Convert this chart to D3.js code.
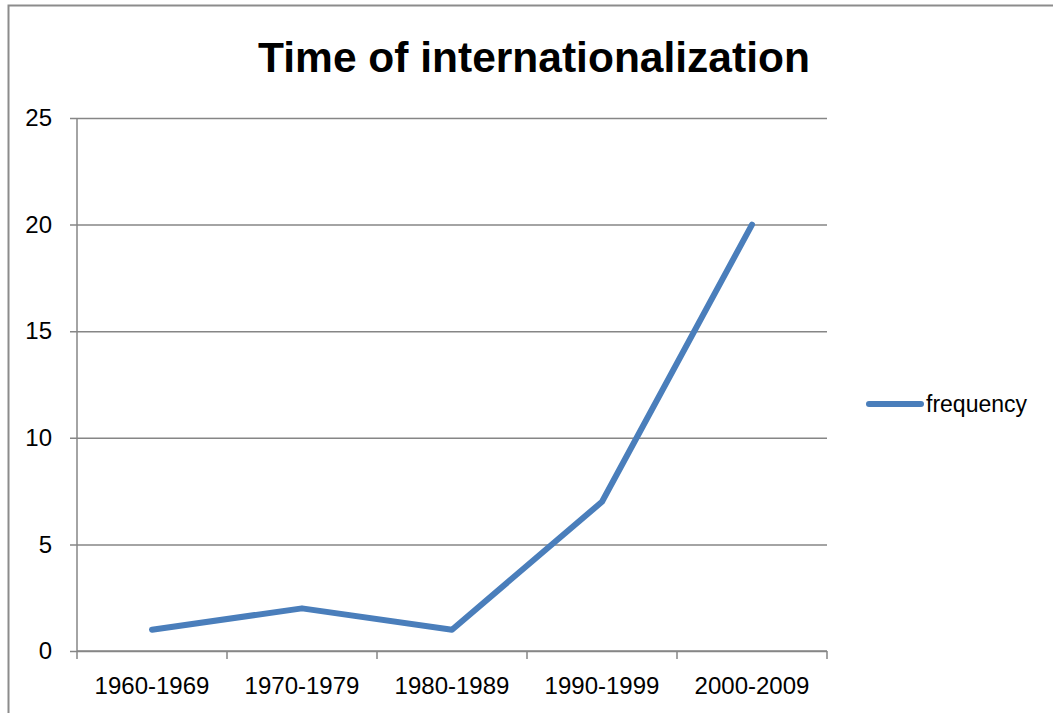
<!DOCTYPE html>
<html>
<head>
<meta charset="utf-8">
<script src="https://cdn.jsdelivr.net/npm/d3@7"></script>
<style>
  body { margin: 0; background: #fff; }
  svg { display: block; font-family: "Liberation Sans", Arial, sans-serif; }
</style>
</head>
<body>
<div id="chart"></div>
<script>
// data
var categories = ["1960-1969", "1970-1979", "1980-1989", "1990-1999", "2000-2009"];
var frequency = [1, 2, 1, 7, 20];
var yTicks = [0, 5, 10, 15, 20, 25];
var seriesName = "frequency";
var title = "Time of internationalization";

var W = 1053, H = 713;
var margin = { top: 118, right: 226, bottom: 62, left: 77 };
var width = W - margin.left - margin.right,
    height = H - margin.top - margin.bottom;

var svg = d3.select("#chart").append("svg")
    .attr("width", W)
    .attr("height", H);

// outer chart border (runs off the page right and bottom)
svg.append("rect")
    .attr("x", 8.5).attr("y", 5.5)
    .attr("width", 1200).attr("height", 900)
    .attr("fill", "none")
    .attr("stroke", "#8c8c8c")
    .attr("stroke-width", 2);

svg.append("text")
    .attr("x", 534).attr("y", 72)
    .attr("text-anchor", "middle")
    .attr("font-weight", "bold")
    .attr("font-size", 42.5)
    .attr("fill", "#000")
    .text(title);

var g = svg.append("g")
    .attr("transform", "translate(" + margin.left + "," + margin.top + ")");

var x = d3.scaleBand()
    .domain(categories)
    .range([0, width]);

var y = d3.scaleLinear()
    .domain([0, 25])
    .range([height, 0]);

// horizontal gridlines + y axis
var yAxis = d3.axisLeft(y)
    .tickValues(yTicks)
    .tickSize(-width - 7);

g.append("g")
    .attr("class", "y-axis")
    .call(yAxis)
    .call(function(sel) {
        sel.select(".domain").remove();
        sel.selectAll(".tick line")
            .attr("x1", -7)
            .attr("x2", width)
            .attr("stroke", "#868686")
            .attr("stroke-width", 1.5);
        sel.selectAll(".tick text")
            .attr("x", -25)
            .attr("font-size", 24)
            .attr("fill", "#000");
    });

// left axis line
g.append("line")
    .attr("x1", 0).attr("x2", 0)
    .attr("y1", 0).attr("y2", height)
    .attr("stroke", "#868686")
    .attr("stroke-width", 1.5);

// x axis: ticks at band boundaries
var xAxisG = g.append("g")
    .attr("class", "x-axis")
    .attr("transform", "translate(0," + height + ")");

xAxisG.append("line")
    .attr("x1", 0).attr("x2", width)
    .attr("stroke", "#868686")
    .attr("stroke-width", 1.5);

var bounds = categories.map(function(c) { return x(c); }).concat([width]);
xAxisG.selectAll(".xtick")
    .data(bounds)
    .enter().append("line")
    .attr("class", "xtick")
    .attr("x1", function(d) { return d; })
    .attr("x2", function(d) { return d; })
    .attr("y1", 0).attr("y2", 8)
    .attr("stroke", "#868686")
    .attr("stroke-width", 1.5);

xAxisG.selectAll(".xlabel")
    .data(categories)
    .enter().append("text")
    .attr("class", "xlabel")
    .attr("x", function(d) { return x(d) + x.bandwidth() / 2; })
    .attr("y", 43)
    .attr("text-anchor", "middle")
    .attr("font-size", 24)
    .attr("fill", "#000")
    .text(function(d) { return d; });

// the line
var line = d3.line()
    .x(function(d, i) { return x(categories[i]) + x.bandwidth() / 2; })
    .y(function(d) { return y(d); });

g.append("path")
    .datum(frequency)
    .attr("d", line)
    .attr("fill", "none")
    .attr("stroke", "#4a7ebb")
    .attr("stroke-width", 6)
    .attr("stroke-linecap", "round")
    .attr("stroke-linejoin", "round");

// legend
var legend = svg.append("g")
    .attr("transform", "translate(869,404)");

legend.append("line")
    .attr("x1", 0).attr("x2", 52)
    .attr("stroke", "#4a7ebb")
    .attr("stroke-width", 6)
    .attr("stroke-linecap", "round");

legend.append("text")
    .attr("x", 57)
    .attr("y", 0)
    .attr("dy", "0.35em")
    .attr("font-size", 23)
    .attr("fill", "#000")
    .text(seriesName);
</script>
</body>
</html>
